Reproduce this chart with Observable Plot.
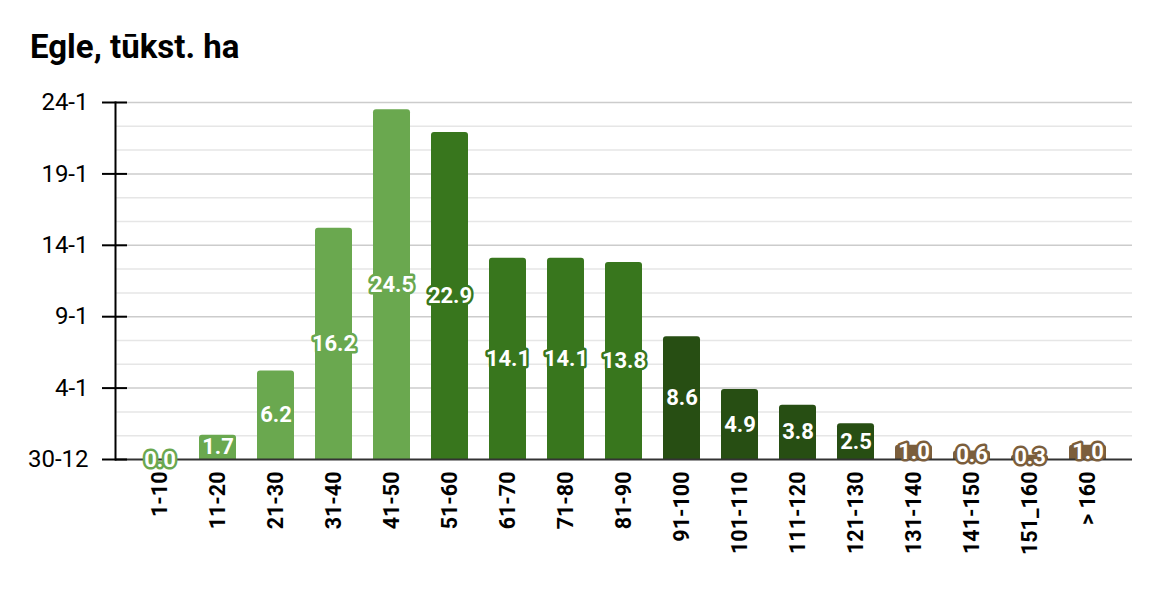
<!DOCTYPE html>
<html>
<head>
<meta charset="utf-8">
<script src="https://cdn.jsdelivr.net/npm/d3@7"></script>
<script src="https://cdn.jsdelivr.net/npm/@observablehq/plot@0.6"></script>
<style>
  html, body { margin: 0; padding: 0; background: #fff; }
  #title { font-family: Roboto, sans-serif; font-weight: bold; font-size: 33px; line-height: 38px;
           padding: 28px 0 14px 30px; height: 38px; color: #000; }
  svg { display: block; }
</style>
</head>
<body>
<div id="title">Egle, tūkst. ha</div>
<div id="chart"></div>
<script>
const categories = ["1-10","11-20","21-30","31-40","41-50","51-60","61-70","71-80","81-90","91-100","101-110","111-120","121-130","131-140","141-150","151_160","> 160"];
const values = [0.0, 1.7, 6.2, 16.2, 24.5, 22.9, 14.1, 14.1, 13.8, 8.6, 4.9, 3.8, 2.5, 1.0, 0.6, 0.3, 1.0];
const groups = ["a","a","a","a","a","b","b","b","b","c","c","c","c","d","d","d","d"];
const groupColors = ["#6aa84f", "#38761d", "#274e13", "#7b5e3c"];
const yTicks = [0, 5, 10, 15, 20, 25];
const yTickLabels = ["30-12", "4-1", "9-1", "14-1", "19-1", "24-1"];
const yMinor = d3.range(0, 25.01, 5 / 3).filter(v => Math.abs(v / 5 - Math.round(v / 5)) > 1e-6);

const data = categories.map((c, i) => ({cat: c, value: values[i], group: groups[i]}));
const colorOf = g => groupColors["abcd".indexOf(g)];

const chart = Plot.plot({
  width: 1160,
  height: 514,
  marginTop: 22,
  marginBottom: 135,
  marginLeft: 115,
  marginRight: 28,
  style: {fontFamily: "Roboto, sans-serif", fontSize: "20px", color: "#000", background: "#fff"},
  x: {domain: categories, padding: 0.37, label: null},
  y: {domain: [0, 25], label: null},
  marks: [
    Plot.ruleY(yMinor, {stroke: "#e6e6e6", strokeWidth: 1.5}),
    Plot.ruleY(yTicks.slice(1), {stroke: "#cccccc", strokeWidth: 1.5}),
    Plot.barY(data, {x: "cat", y: "value", fill: d => colorOf(d.group), rx: 3, insetBottom: -5, clip: true}),
    Plot.ruleY([0], {stroke: "#333", strokeWidth: 2}),
    Plot.frame({anchor: "left", stroke: "#000", strokeWidth: 2}),
    Plot.axisY({ticks: yTicks, tickFormat: d => yTickLabels[yTicks.indexOf(d)], tickSize: 25, dx: 12, tickPadding: 14, strokeWidth: 2, stroke: "#000", fontSize: 24, label: null}),
    Plot.axisX({tickSize: 0, tickRotate: -90, tickPadding: 12, fontWeight: "bold", fontSize: 21.5, label: null}),
    Plot.text(data, {x: "cat", y: d => d.value / 2, text: d => d.value.toFixed(1), fill: "white",
      stroke: d => colorOf(d.group), strokeWidth: 5, strokeLinejoin: "round", fontWeight: "bold", fontSize: 22})
  ]
});
document.getElementById("chart").appendChild(chart);
</script>
</body>
</html>
